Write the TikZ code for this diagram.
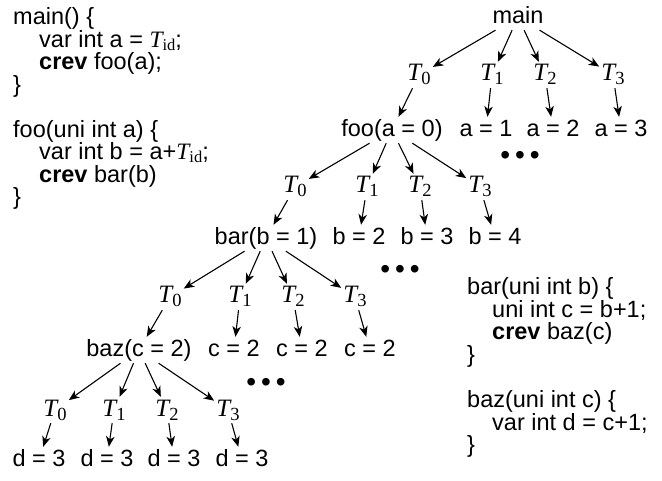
\documentclass[tikz,border=0pt]{standalone}
\usepackage{fontspec}
\setmainfont{Liberation Sans}
\newfontfamily\tnr{Liberation Serif}
\usetikzlibrary{arrows.meta}
\newcommand{\TT}[1]{{\tnr\itshape\fontsize{25}{25}\selectfont T}\raisebox{-4pt}{\tnr\fontsize{18.5}{18.5}\selectfont #1}}
\newcommand{\Tid}{{\tnr\itshape T}\raisebox{-3pt}{\tnr\fontsize{16.5}{16.5}\selectfont id}}
\newcommand{\tdots}{{\fontsize{28}{28}\selectfont •\hspace{5pt}•\hspace{5pt}•}}
\begin{document}
\begin{tikzpicture}[x=1pt,y=-1pt,
  every node/.style={font=\fontsize{23.5}{23.5}\selectfont},
  val/.style={inner sep=2pt,text height=17.5pt,text depth=4.5pt},
  tl/.style={inner sep=2pt,text height=17pt,text depth=5pt},
  code/.style={anchor=base west,inner sep=0pt},
  arr/.style={-{Stealth[length=10.5pt,width=8.5pt,inset=3pt]},line width=1.1pt},
  dotsn/.style={inner sep=0pt}]
\useasboundingbox (0,0) rectangle (662,481);
% code, left
\node[code] (L1) at (13,25) {main() \{};
\node[code] (L2) at (39,47.5) {var int a = \Tid;};
\node[code] (L3) at (39,70) {\textbf{crev} foo(a);};
\node[code] (L4) at (13,92.5) {\}};
\node[code] (L5) at (13,137.5) {foo(uni int a) \{};
\node[code] (L6) at (39,160) {var int b = a+\Tid;};
\node[code] (L7) at (39,182.5) {\textbf{crev} bar(b)};
\node[code] (L8) at (13,205) {\}};
% code, right
\node[code] (R1) at (467,295) {bar(uni int b) \{};
\node[code] (R2) at (492,317.5) {uni int c = b+1;};
\node[code] (R3) at (492,340) {\textbf{crev} baz(c)};
\node[code] (R4) at (467,362.5) {\}};
\node[code] (R5) at (467,407.5) {baz(uni int c) \{};
\node[code] (R6) at (492,430) {var int d = c+1;};
\node[code] (R7) at (467,452.5) {\}};
% level 1
\node[val] (main) at (518,17) {main};
\node[tl] (m0) at (419,75) {\TT0};
\node[tl] (m1) at (492,75) {\TT1};
\node[tl] (m2) at (545,75) {\TT2};
\node[tl] (m3) at (613,75) {\TT3};
\node[val] (a0) at (392,130) {foo(a = 0)};
\node[val] (a1) at (486,130) {a = 1};
\node[val] (a2) at (553,130) {a = 2};
\node[val] (a3) at (621,130) {a = 3};
\node[dotsn] (dots1) at (520,158) {\tdots};
% level 2
\node[tl] (f0) at (295,187) {\TT0};
\node[tl] (f1) at (367,187) {\TT1};
\node[tl] (f2) at (420,187) {\TT2};
\node[tl] (f3) at (480,187) {\TT3};
\node[val] (b0) at (266,238) {bar(b = 1)};
\node[val] (b1) at (359,238) {b = 2};
\node[val] (b2) at (427,238) {b = 3};
\node[val] (b3) at (495,238) {b = 4};
\node[dotsn] (dots2) at (400,272) {\tdots};
% level 3
\node[tl] (r0) at (170,297) {\TT0};
\node[tl] (r1) at (240,297) {\TT1};
\node[tl] (r2) at (293,297) {\TT2};
\node[tl] (r3) at (355,297) {\TT3};
\node[val] (c0) at (139,350) {baz(c = 2)};
\node[val] (c1) at (234,350) {c = 2};
\node[val] (c2) at (302,350) {c = 2};
\node[val] (c3) at (370,350) {c = 2};
\node[dotsn] (dots3) at (266,385) {\tdots};
% level 4
\node[tl] (z0) at (55,410) {\TT0};
\node[tl] (z1) at (114,410) {\TT1};
\node[tl] (z2) at (167,410) {\TT2};
\node[tl] (z3) at (228,410) {\TT3};
\node[val] (d0) at (39,460) {d = 3};
\node[val] (d1) at (107,460) {d = 3};
\node[val] (d2) at (174,460) {d = 3};
\node[val] (d3) at (242,460) {d = 3};
% connectors
\foreach \i in {0,1,2,3} {
  \draw[arr] (main) -- (m\i);
  \draw[arr] (m\i) -- (a\i);
  \draw[arr] (a0) -- (f\i);
  \draw[arr] (f\i) -- (b\i);
  \draw[arr] (b0) -- (r\i);
  \draw[arr] (r\i) -- (c\i);
  \draw[arr] (c0) -- (z\i);
  \draw[arr] (z\i) -- (d\i);
}
\end{tikzpicture}
\end{document}
